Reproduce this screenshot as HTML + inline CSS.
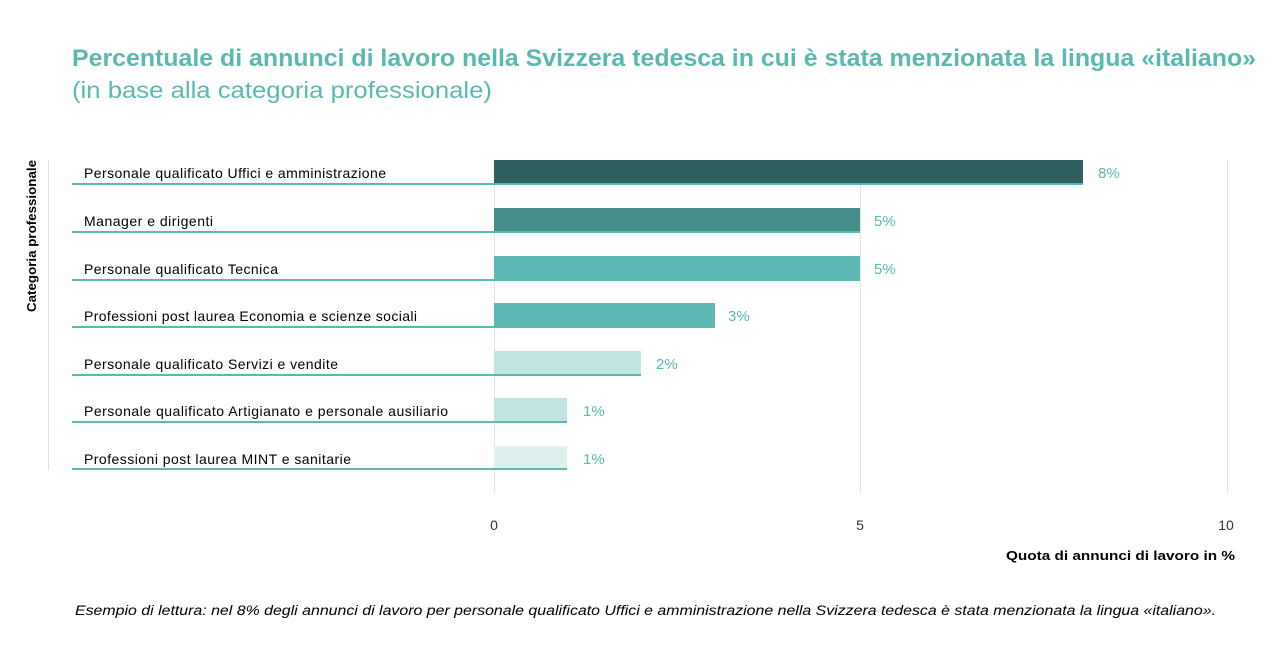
<!DOCTYPE html>
<html><head><meta charset="utf-8"><style>
body{margin:0;background:#fff;width:1288px;height:666px;overflow:hidden}
text{font-family:"Liberation Sans",sans-serif}
</style></head><body>
<svg width="1288" height="666" xmlns="http://www.w3.org/2000/svg">
<text x="72" y="66" font-size="24" font-weight="bold" fill="#5bb8b0" textLength="1184" lengthAdjust="spacingAndGlyphs">Percentuale di annunci di lavoro nella Svizzera tedesca in cui è stata menzionata la lingua «italiano»</text>
<text x="72" y="98" font-size="23" fill="#5bb8b0" textLength="420" lengthAdjust="spacingAndGlyphs">(in base alla categoria professionale)</text>
<line x1="48.5" y1="160" x2="48.5" y2="470" stroke="#e0e0e0"/>
<g stroke="#e3e3e3"><line x1="494.5" y1="160" x2="494.5" y2="493"/><line x1="860.5" y1="160" x2="860.5" y2="493"/><line x1="1227.5" y1="160" x2="1227.5" y2="493"/></g>
<text transform="translate(36,236) rotate(-90)" text-anchor="middle" font-size="13" font-weight="bold" fill="#000" textLength="152" lengthAdjust="spacingAndGlyphs">Categoria professionale</text>
<g font-size="14" fill="#000" lengthAdjust="spacingAndGlyphs">
<text x="84" y="178" textLength="302">Personale qualificato Uffici e amministrazione</text>
<text x="84" y="226" textLength="129">Manager e dirigenti</text>
<text x="84" y="274" textLength="194">Personale qualificato Tecnica</text>
<text x="84" y="321" textLength="333">Professioni post laurea Economia e scienze sociali</text>
<text x="84" y="369" textLength="254">Personale qualificato Servizi e vendite</text>
<text x="84" y="416" textLength="364">Personale qualificato Artigianato e personale ausiliario</text>
<text x="84" y="464" textLength="267">Professioni post laurea MINT e sanitarie</text>
</g>
<rect x="494" y="160" width="589" height="24" fill="#2f5f5e"/>
<rect x="494" y="208" width="366" height="24" fill="#468e8b"/>
<rect x="494" y="256" width="366" height="24" fill="#5db8b3"/>
<rect x="494" y="303" width="221" height="24" fill="#5db8b3"/>
<rect x="494" y="351" width="147" height="24" fill="#bfe5e2"/>
<rect x="494" y="398" width="73" height="24" fill="#bfe5e2"/>
<rect x="494" y="446" width="73" height="23" fill="#dff1ef"/>
<g fill="#5db8b3">
<rect x="72" y="183" width="1011" height="2"/>
<rect x="72" y="231" width="788" height="2"/>
<rect x="72" y="279" width="788" height="2"/>
<rect x="72" y="326" width="643" height="2"/>
<rect x="72" y="374" width="569" height="2"/>
<rect x="72" y="421" width="495" height="2"/>
<rect x="72" y="468" width="495" height="2"/>
</g>
<g font-size="15" fill="#5bb8b0">
<text x="1098" y="178">8%</text>
<text x="874" y="226">5%</text>
<text x="874" y="274">5%</text>
<text x="728" y="321">3%</text>
<text x="656" y="369">2%</text>
<text x="583" y="416">1%</text>
<text x="583" y="464">1%</text>
</g>
<g font-size="14" fill="#333" text-anchor="middle">
<text x="494" y="530">0</text><text x="860" y="530">5</text><text x="1226" y="530">10</text>
</g>
<text x="1006" y="560" font-size="13" font-weight="bold" fill="#000" textLength="229" lengthAdjust="spacingAndGlyphs">Quota di annunci di lavoro in %</text>
<text x="75" y="615" font-size="13.5" font-style="italic" fill="#000" textLength="1141" lengthAdjust="spacingAndGlyphs">Esempio di lettura: nel 8% degli annunci di lavoro per personale qualificato Uffici e amministrazione nella Svizzera tedesca è stata menzionata la lingua «italiano».</text>
</svg>
</body></html>
